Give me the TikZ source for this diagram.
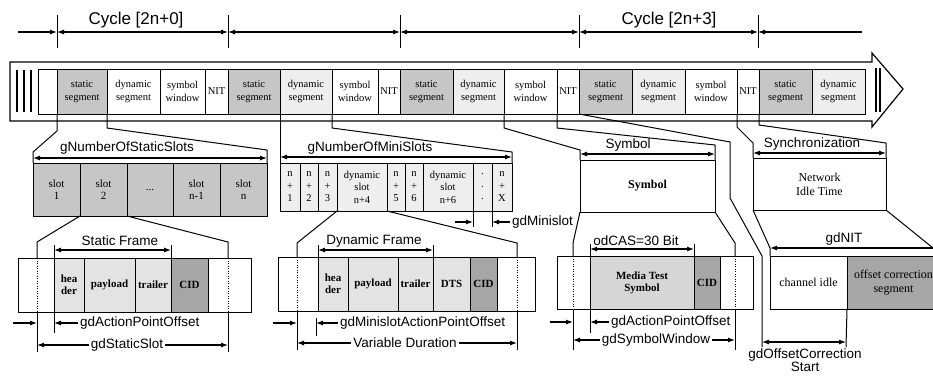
\documentclass[tikz,border=0pt]{standalone}
\usepackage{fontspec}
\setmainfont{Liberation Serif}
\newfontfamily\lblfont{Liberation Sans}
\usetikzlibrary{arrows.meta}
\newcommand\bx[7][]{\node[bxs,#1,minimum width={#5pt-#3pt},minimum height={#6pt-#4pt},anchor=north west] (#2) at (#3,#4) {#7};}
\begin{document}
\begin{tikzpicture}[x=1pt,y=-1pt,>={Latex[length=7pt,width=5pt]},
 bxs/.style={draw,line width=1pt,inner sep=0pt,outer sep=0pt,align=center,font=\fontsize{10.5}{12.5}\selectfont},
 fstat/.style={fill=gray!45},
 fdyn/.style={fill=gray!13},
 flite/.style={fill=gray!22},
 fdark/.style={fill=gray!70},
 fmed/.style={fill=gray!32},
 fbold/.style={font=\bfseries\fontsize{11}{12}\selectfont},
 fbig/.style={font=\fontsize{12}{14}\selectfont},
 fslot/.style={font=\fontsize{11}{12.5}\selectfont},
 lbl/.style={font=\lblfont\fontsize{13.5}{15}\selectfont,inner sep=1pt},
 cyc/.style={font=\lblfont\fontsize{17}{20}\selectfont,inner sep=1pt},
 arrline/.style={line width=1.1pt},
 con/.style={line width=1pt},
 dotln/.style={line width=0.8pt,dash pattern=on 1pt off 1.5pt},
 gap/.style={fill=white,inner sep=2pt}
]
\useasboundingbox (0,0) rectangle (933,376);
\clip (0,0) rectangle (933,376);

% ---------- cycle row ----------
\foreach \x/\n in {57/t1,228/t2,400/t3,579/t4,758/t5}{
  \draw[con] (\x,15) -- (\x,48);
  \coordinate (\n) at (\x,32);}
\coordinate (t0) at (18,32);
\coordinate (t6) at (862,32);
\draw[arrline,->] (t0) -- (t1);
\draw[arrline,<->] (t1) -- (t2);
\draw[arrline,<->] (t2) -- (t3);
\draw[arrline,<->] (t3) -- (t4);
\draw[arrline,<->] (t4) -- (t5);
\draw[arrline,<-] (t5) -- (t6);
\node[cyc] (c0) at (136,20) {Cycle [2n+0]};
\node[cyc] (c3) at (669,20) {Cycle [2n+3]};

% ---------- main bar ----------
\draw[line width=1.2pt,fill=white] (10,62) -- (872,62) -- (872,53) -- (903,89) -- (872,127) -- (872,121) -- (10,121) -- cycle;
\foreach \x in {17,24,31} \draw[line width=2pt] (\x,70) -- (\x,112);
\foreach \x in {876,880} \draw[line width=1.2pt] (\x,68) -- (\x,112);

\bx{b0}{38}{69}{57}{114}{}
\bx[fstat]{s1}{57}{69}{107}{114}{static\\segment}
\bx{d1}{107}{69}{160}{114}{dynamic\\segment}
\bx{w1}{160}{69}{205}{114}{symbol\\window}
\bx{n1}{205}{69}{228}{114}{NIT}
\bx[fstat]{s2}{228}{69}{280}{114}{static\\segment}
\bx[fdyn]{d2}{280}{69}{332}{114}{dynamic\\segment}
\bx{w2}{332}{69}{378}{114}{symbol\\window}
\bx{n2}{378}{69}{400}{114}{NIT}
\bx[fstat]{s3}{400}{69}{453}{114}{static\\segment}
\bx[fdyn]{d3}{453}{69}{504}{114}{dynamic\\segment}
\bx{w3}{504}{69}{557}{114}{symbol\\window}
\bx{n3}{557}{69}{579}{114}{NIT}
\bx[fstat]{s4}{579}{69}{632}{114}{static\\segment}
\bx[fdyn]{d4}{632}{69}{685}{114}{dynamic\\segment}
\bx{w4}{685}{69}{737}{114}{symbol\\window}
\bx{n4}{737}{69}{759}{114}{NIT}
\bx[fstat]{s5}{759}{69}{812}{114}{static\\segment}
\bx[fdyn]{d5}{812}{69}{865}{114}{dynamic\\segment}

% ---------- middle row ----------
\bx[fstat,fslot]{sl1}{33}{163}{80}{216}{slot\\1}
\bx[fstat,fslot]{sl2}{80}{163}{127}{216}{slot\\2}
\bx[fstat,fslot]{sld}{127}{163}{173}{216}{...}
\bx[fstat,fslot]{slm}{173}{163}{220}{216}{slot\\n-1}
\bx[fstat,fslot]{sln}{220}{163}{267}{216}{slot\\n}
\draw[arrline,<->] (33,158) -- (267,158);
\node[lbl] (gnss) at (127,148) {gNumberOfStaticSlots};

\bx[fdyn]{m1}{280}{163}{300}{211}{n\\+\\1}
\bx[fdyn]{m2}{300}{163}{318}{211}{n\\+\\2}
\bx[fdyn]{m3}{318}{163}{337}{211}{n\\+\\3}
\bx[fdyn]{m4}{337}{163}{387}{211}{dynamic\\slot\\n+4}
\bx[fdyn]{m5}{387}{163}{405}{211}{n\\+\\5}
\bx[fdyn]{m6}{405}{163}{423}{211}{n\\+\\6}
\bx[fdyn]{m7}{423}{163}{473}{211}{dynamic\\slot\\n+6}
\bx[fdyn]{m8}{473}{163}{492}{211}{.\\.\\.}
\bx[fdyn]{mX}{492}{163}{512}{211}{n\\+\\X}
\draw[arrline,<->] (280,157) -- (512,157);
\node[lbl] (gnms) at (370,148) {gNumberOfMiniSlots};

\draw[con] (m8.south west) -- (473,227);
\draw[con] (mX.south west) -- (492,227);
\draw[arrline,->] (455,222) -- (473,222);
\draw[arrline,<-] (492,222) -- (510,222);
\node[lbl,anchor=west] (gdms) at (511,222) {gdMinislot};

\bx[font=\bfseries\fontsize{12}{14}\selectfont]{sym}{580}{160}{715}{212}{Symbol}
\draw[arrline,<->] (580,154) -- (715,154);
\node[lbl] (lsym) at (628,145) {Symbol};

\bx[fbig]{nit}{753}{158}{886}{210}{Network\\Idle Time}
\draw[arrline,<->] (753,153) -- (886,153);
\node[lbl] (lsync) at (812,144) {Synchronization};

% ---------- connectors bar -> middle ----------
\draw[con] (s1.south west) -- (57,131) -- (33,152) -- (sl1.north west);
\draw[con] (d1.south west) -- (107,128) -- (267,150) -- (sln.north east);
\draw[con] (d2.south west) -- (m1.north west);
\draw[con] (w2.south west) -- (332,128) -- (512,152) -- (mX.north east);
\draw[con] (w3.south west) -- (504,128) -- (580,150) -- (sym.north west);
\draw[con] (n3.south west) -- (557,128) -- (715,145) -- (sym.north east);
\draw[con] (n4.south west) -- (737,127) -- (753,143) -- (nit.north west);
\draw[con] (s5.south west) -- (759,125) -- (886,143) -- (nit.north east);
\draw[con] (s4.south west) -- (730,142) -- (730,198) -- (762,256) -- (762,347) coordinate (ocl);

% ---------- static frame ----------
\bx{sf}{18}{258}{251}{312}{}
\draw[dotln] (37,258) -- (37,312);
\draw[dotln] (228,258) -- (228,312);
\bx[flite,fbold]{sh}{54}{258}{84}{312}{hea\\der}
\bx[flite,fbold]{sp}{84}{258}{135}{312}{payload}
\bx[flite,fbold]{st}{135}{258}{171}{312}{trailer}
\bx[fdark,fbold]{sc}{171}{258}{208}{312}{CID}
\draw[con] (sl2.south west) -- (37,242) -- (37,258);
\draw[con] (sl2.south east) -- (228,242) -- (228,258);
\draw[con] (37,312) -- (37,352);
\draw[con] (228,312) -- (228,352);
\draw[con] (54,245) -- (sh.north west);
\draw[con] (sh.south west) -- (54,333);
\draw[con] (171,245) -- (sc.north west);
\draw[arrline,<->] (54,250) -- (171,250);
\node[lbl] (lsf) at (120,241) {Static Frame};
\draw[arrline,->] (13,323) -- (37,323);
\draw[arrline,<-] (54,323) -- (78,323);
\node[lbl,anchor=west] (lapo1) at (79,323) {gdActionPointOffset};
\draw[arrline,<->] (37,345) -- (228,345);
\node[lbl,gap] (lss) at (127,345) {gdStaticSlot};

% ---------- dynamic frame ----------
\bx{df}{278}{257}{535}{311}{}
\draw[dotln] (297,257) -- (297,311);
\draw[dotln] (517,257) -- (517,311);
\bx[flite,fbold]{dh}{318}{257}{348}{311}{hea\\der}
\bx[flite,fbold]{dp}{348}{257}{398}{311}{payload}
\bx[flite,fbold]{dt}{398}{257}{433}{311}{trailer}
\bx[flite,fbold]{dd}{433}{257}{470}{311}{DTS}
\bx[fdark,fbold]{dc}{470}{257}{497}{311}{CID}
\draw[con] (m4.south west) -- (297,243) -- (297,257);
\draw[con] (m4.south east) -- (517,243) -- (517,257);
\draw[con] (297,311) -- (297,350);
\draw[con] (517,311) -- (517,350);
\draw[con] (318,245) -- (dh.north west);
\draw[con] (433,245) -- (dt.north east);
\draw[con] (316,318) -- (316,336);
\draw[arrline,<->] (318,250) -- (433,250);
\node[lbl] (ldf) at (374,241) {Dynamic Frame};
\draw[arrline,->] (273,323) -- (297,323);
\draw[arrline,<-] (316,323) -- (338,323);
\node[lbl,anchor=west] (lmapo) at (339,323) {gdMinislotActionPointOffset};
\draw[arrline,<->] (297,343) -- (517,343);
\node[lbl,gap] (lvd) at (405,343) {Variable Duration};

% ---------- symbol window detail ----------
\bx{yf}{557}{256}{753}{309}{}
\draw[dotln] (573,256) -- (573,309);
\draw[dotln] (735,256) -- (735,309);
\bx[fmed,fbold]{ym}{590}{256}{694}{309}{Media Test\\Symbol}
\bx[fdark,fbold]{yc}{694}{256}{720}{309}{CID}
\draw[con] (sym.south west) -- (573,243) -- (573,256);
\draw[con] (sym.south east) -- (735,243) -- (735,256);
\draw[con] (573,309) -- (573,350);
\draw[con] (735,309) -- (735,350);
\draw[con] (590,244) -- (ym.north west);
\draw[con] (ym.south west) -- (590,333);
\draw[con] (694,244) -- (yc.north west);
\draw[arrline,<->] (590,249) -- (694,249);
\node[lbl] (lcas) at (636,241) {odCAS=30 Bit};
\draw[arrline,->] (550,322) -- (573,322);
\draw[arrline,<-] (590,322) -- (609,322);
\node[lbl,anchor=west] (lapo2) at (610,322) {gdActionPointOffset};
\draw[arrline,<->] (573,340) -- (735,340);
\node[lbl,gap] (lsw) at (656,340) {gdSymbolWindow};

% ---------- NIT detail ----------
\bx[fbig]{ci}{770}{256}{847}{309}{channel idle}
\bx[fdark,fbig]{oc}{847}{256}{940}{309}{offset correction\\segment}
\draw[con] (nit.south west) -- (770,248) -- (ci.north west);
\draw[con] (nit.south east) -- (933,248) -- (oc.north east);
\draw[arrline,<-] (770,248) -- (940,248);
\node[lbl] (lnit) at (844,239) {gdNIT};
\draw[con] (ci.south east) -- (846,347);
\draw[arrline,<->] (762,342) -- (846,342);
\node[lbl] (locs1) at (805,355) {gdOffsetCorrection};
\node[lbl] (locs2) at (805,367) {Start};
\end{tikzpicture}
\end{document}
